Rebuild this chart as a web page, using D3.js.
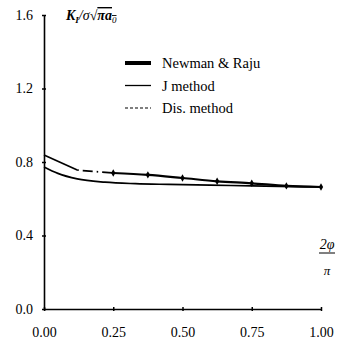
<!DOCTYPE html>
<html>
<head>
<meta charset="utf-8">
<script src="https://cdn.jsdelivr.net/npm/d3@7"></script>
<style>
  body { margin: 0; background: #fff; }
</style>
</head>
<body>
<script>
// data
const xTicks = [0, 0.25, 0.5, 0.75, 1.0];
const xTickLabels = ["0.00", "0.25", "0.50", "0.75", "1.00"];
const yTicks = [0, 0.4, 0.8, 1.2, 1.6];
const yTickLabels = ["0.0", "0.4", "0.8", "1.2", "1.6"];

const newmanX = [0.25, 0.375, 0.5, 0.625, 0.75, 0.875, 1.0];
const newmanY = [0.740, 0.730, 0.713, 0.695, 0.684, 0.670, 0.664];

const jX = [0, 0.05, 0.12, 0.22, 0.33, 0.45, 0.6, 0.75, 0.9, 1.0];
const jY = [0.773, 0.738, 0.708, 0.690, 0.682, 0.678, 0.674, 0.670, 0.666, 0.664];

const disX = [0, 0.12, 0.25];
const disY = [0.838, 0.756, 0.740];

const legendNames = ["Newman & Raju", "J method", "Dis. method"];

const serif = "'Liberation Serif', 'Times New Roman', serif";
const width = 339, height = 342;
const margin = { top: 15, right: 18, bottom: 33, left: 44 };

const svg = d3.select("body").append("svg")
    .attr("width", width)
    .attr("height", height)
    .style("font-family", serif);

const x = d3.scaleLinear().domain([0, 1]).range([margin.left, width - margin.right]);
const y = d3.scaleLinear().domain([0, 1.6]).range([height - margin.bottom, margin.top]);

// axes
const yAxis = svg.append("g")
    .attr("transform", "translate(" + margin.left + ",0)")
    .call(d3.axisLeft(y).tickValues(yTicks).tickFormat((d, i) => yTickLabels[i]).tickSize(3).tickSizeOuter(0).tickPadding(8));
yAxis.attr("font-family", null);
yAxis.selectAll(".tick line").attr("x1", -2).attr("x2", 2).attr("stroke-width", 1.5);
yAxis.select(".domain").attr("stroke-width", 1.6);
yAxis.selectAll("text").style("font-size", "14px").style("font-family", serif);

const xAxis = svg.append("g")
    .attr("transform", "translate(0," + y(0) + ")")
    .call(d3.axisBottom(x).tickValues(xTicks).tickFormat((d, i) => xTickLabels[i]).tickSize(3).tickSizeOuter(0).tickPadding(15));
xAxis.attr("font-family", null);
xAxis.selectAll(".tick line").attr("y1", -2).attr("y2", 2).attr("stroke-width", 1.5);
xAxis.select(".domain").attr("stroke-width", 1.6);
xAxis.selectAll("text").style("font-size", "14px").style("font-family", serif);

// lines
const line = d3.line().x(d => x(d[0])).y(d => y(d[1])).curve(d3.curveMonotoneX);
const straight = d3.line().x(d => x(d[0])).y(d => y(d[1]));

const jData = jX.map((v, i) => [v, jY[i]]);
const disData = disX.map((v, i) => [v, disY[i]]);
const newmanData = newmanX.map((v, i) => [v, newmanY[i]]);

svg.append("path").datum(jData)
    .attr("fill", "none").attr("stroke", "#000").attr("stroke-width", 1.7)
    .attr("d", line);

// first stretch of the dis. method curve is drawn solid in the original
svg.append("path").datum(disData.slice(0, 2))
    .attr("fill", "none").attr("stroke", "#000").attr("stroke-width", 1.7)
    .attr("d", straight);
svg.append("path").datum(disData.slice(1))
    .attr("fill", "none").attr("stroke", "#000").attr("stroke-width", 1.7)
    .attr("stroke-dasharray", "1.5,4,10,4")
    .attr("d", straight);

svg.append("path").datum(newmanData)
    .attr("fill", "none").attr("stroke", "#000").attr("stroke-width", 2.2)
    .attr("d", line);

svg.selectAll(".mark").data(newmanData).enter().append("path")
    .attr("class", "mark")
    .attr("transform", d => "translate(" + x(d[0]) + "," + y(d[1]) + ")")
    .attr("d", d3.symbol().type(d3.symbolDiamond).size(16))
    .attr("fill", "#000");

// legend
const legend = svg.append("g").attr("transform", "translate(125,63)");
const legendStyles = [
    { w: 4, dash: null },
    { w: 1.3, dash: null },
    { w: 1.2, dash: "3,2" }
];
legendNames.forEach((name, i) => {
    const g = legend.append("g").attr("transform", "translate(0," + (i * 22.5) + ")");
    g.append("line").attr("x1", 0).attr("x2", 26).attr("y1", 0).attr("y2", 0)
        .attr("stroke", "#000").attr("stroke-width", legendStyles[i].w)
        .attr("stroke-dasharray", legendStyles[i].dash);
    g.append("text").attr("x", 37).attr("y", 5)
        .style("font-size", "14.5px").style("font-family", serif)
        .text(name);
});

// y title  K_I / σ √(π a_0)
const title = svg.append("text").attr("x", 66).attr("y", 20)
    .style("font-family", serif)
    .style("font-size", "14px").style("font-style", "italic").style("font-weight", "bold");
title.append("tspan").text("K");
title.append("tspan").attr("dy", 3).style("font-size", "9px").text("I");
title.append("tspan").attr("dy", -3).style("font-weight", "normal").text("/σ√");
title.append("tspan").style("text-decoration", "overline").text("πa");
title.append("tspan").attr("dy", 3).style("font-size", "9px").style("font-weight", "normal").style("text-decoration", "overline").text("0");

// x title 2φ / π
const xt = svg.append("g").attr("transform", "translate(327,0)").style("font-family", serif);
xt.append("text").attr("x", 0).attr("y", 249).attr("text-anchor", "middle")
    .style("font-size", "14px").style("font-style", "italic").text("2φ");
xt.append("line").attr("x1", -8).attr("x2", 8).attr("y1", 253).attr("y2", 253)
    .attr("stroke", "#000").attr("stroke-width", 1);
xt.append("text").attr("x", 0).attr("y", 275).attr("text-anchor", "middle")
    .style("font-size", "13px").style("font-style", "italic").text("π");
</script>
</body>
</html>
